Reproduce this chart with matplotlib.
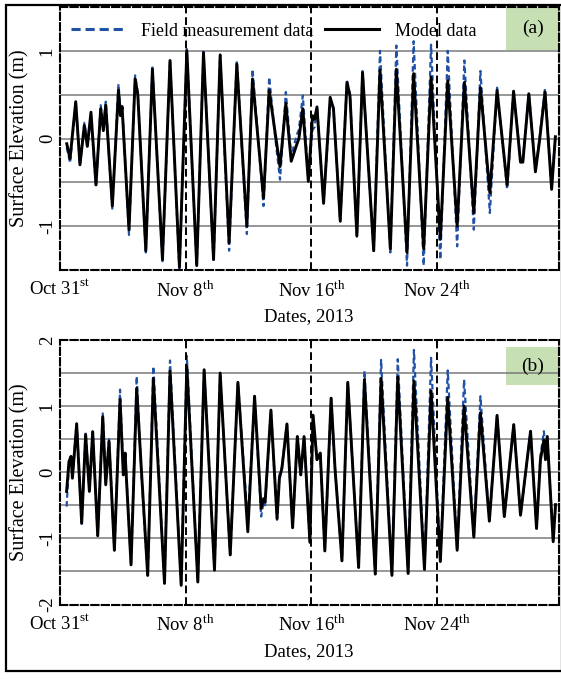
import matplotlib
matplotlib.use("Agg")
import matplotlib.pyplot as plt
from matplotlib.lines import Line2D
from matplotlib.patches import Rectangle

plt.rcParams['font.family'] = 'Liberation Serif'
plt.rcParams['mathtext.fontset'] = 'custom'
plt.rcParams['mathtext.rm'] = 'Liberation Serif'

# days since Oct 31st, 2013
a_days = [0.43, 0.64, 1.00, 1.27, 1.55, 1.74, 1.97, 2.29, 2.59, 2.76, 2.91, 3.33, 3.72, 3.85,
          3.95, 4.39, 4.78, 4.95, 5.46, 5.88, 6.52, 7.00, 7.60, 8.07, 8.70, 9.13, 9.77, 10.19,
          10.76, 11.25, 11.89, 12.25, 12.95, 13.31, 13.70, 14.00, 14.37, 14.71, 15.08, 15.20,
          15.45, 15.80, 16.07, 16.20, 16.35, 16.77, 17.19, 17.40, 17.83, 18.26, 18.45, 18.89,
          19.25, 19.96, 20.36, 21.02, 21.40, 22.08, 22.50, 23.14, 23.61, 24.20, 24.67, 25.27,
          25.73, 26.33, 26.75, 27.35, 27.81, 28.45, 28.86, 29.30, 29.45, 29.83, 30.25, 30.50,
          30.86, 31.28, 31.52]
a_model = [-0.06, -0.23, 0.42, -0.30, 0.15, -0.09, 0.30, -0.53, 0.34, 0.09, 0.38, -0.77, 0.55, 0.26,
           0.36, -1.04, 0.68, 0.50, -1.28, 0.79, -1.38, 0.89, -1.47, 1.00, -1.45, 0.98, -1.38, 0.95,
           -1.19, 0.85, -1.00, 0.68, -0.68, 0.55, 0.05, -0.32, 0.40, -0.26, -0.06, 0.00,
           0.34, -0.49, 0.26, 0.22, 0.36, -0.74, 0.47, 0.34, -0.94, 0.64, 0.49, -1.11,
           0.75, -1.28, 0.78, -1.26, 0.79, -1.30, 0.74, -1.26, 0.70, -1.15, 0.66, -1.00,
           0.64, -0.85, 0.58, -0.62, 0.55, -0.53, 0.54, -0.27, -0.27, 0.51, -0.38, -0.04,
           0.53, -0.58, 0.02]
a_field = [-0.10, -0.28, 0.42, -0.30, 0.18, -0.05, 0.25, -0.55, 0.38, 0.12, 0.42, -0.80, 0.62, 0.30,
           0.40, -1.10, 0.72, 0.52, -1.30, 0.81, -1.40, 0.90, -1.50, 1.02, -1.46, 0.99, -1.41, 0.96,
           -1.28, 0.89, -1.09, 0.79, -0.77, 0.70, 0.00, -0.47, 0.53, -0.20, 0.05, 0.10,
           0.49, -0.45, 0.10, 0.13, 0.36, -0.72, 0.40, 0.36, -0.95, 0.66, 0.50, -1.12,
           0.77, -1.30, 1.00, -1.30, 1.06, -1.45, 1.11, -1.45, 1.07, -1.38, 1.00, -1.23,
           0.89, -1.04, 0.77, -0.85, 0.58, -0.58, 0.55, -0.25, -0.25, 0.52, -0.36, -0.02,
           0.57, -0.56, 0.03]

b_days = [0.42, 0.57, 0.70, 0.79, 1.06, 1.38, 1.63, 1.87, 2.08, 2.40, 2.72, 2.91, 3.12, 3.46,
          3.82, 4.03, 4.14, 4.52, 4.88, 5.16, 5.58, 5.94, 6.65, 7.00, 7.71, 8.07, 8.77, 9.17,
          9.83, 10.19, 10.83, 11.32, 11.95, 12.38, 12.80, 12.95, 13.05, 13.42, 13.81, 13.96,
          14.12, 14.44, 14.80, 15.10, 15.32, 15.53, 15.90, 16.10, 16.35, 16.56, 16.85, 17.25,
          17.50, 17.94, 18.31, 19.00, 19.37, 20.06, 20.43, 21.12, 21.49, 22.15, 22.52, 23.19,
          23.61, 24.20, 24.67, 25.27, 25.71, 26.33, 26.75, 27.32, 27.81, 28.27, 28.87, 29.30,
          29.94, 30.32, 30.57, 30.79, 30.89, 31.00, 31.38, 31.53]
b_model = [-0.29, 0.16, 0.24, -0.09, 0.73, -0.77, 0.57, -0.29, 0.61, -0.96, 0.84, -0.19, 0.47, -1.18,
           1.10, -0.04, 0.29, -1.40, 1.27, 0.11, -1.56, 1.42, -1.68, 1.53, -1.71, 1.60, -1.66, 1.55,
           -1.48, 1.50, -1.25, 1.36, -0.90, 1.15, -0.55, -0.40, -0.45, 0.94, -0.70, -0.09,
           0.06, 0.73, -0.84, 0.54, -0.04, 0.54, -1.06, 0.86, 0.19, 0.29, -1.19, 1.12,
           0.05, -1.34, 1.36, -1.44, 1.40, -1.54, 1.42, -1.56, 1.44, -1.53, 1.38, -1.47,
           1.23, -1.35, 1.13, -1.18, 1.00, -0.98, 0.90, -0.74, 0.86, -0.67, 0.72, -0.65,
           0.62, -0.85, 0.19, 0.49, 0.19, 0.54, -1.05, -0.49]
b_field = [-0.52, 0.10, 0.22, -0.09, 0.74, -0.78, 0.60, -0.25, 0.62, -0.96, 0.89, -0.15, 0.50, -1.18,
           1.25, 0.00, 0.32, -1.40, 1.45, 0.05, -1.56, 1.60, -1.68, 1.69, -1.71, 1.76, -1.66, 1.56,
           -1.48, 1.50, -1.25, 1.36, -0.75, 1.15, -0.67, -0.45, -0.50, 0.94, -0.72, -0.05,
           0.08, 0.73, -0.84, 0.54, -0.04, 0.54, -1.06, 0.87, 0.19, 0.29, -1.19, 1.12,
           0.05, -1.34, 1.36, -1.44, 1.53, -1.54, 1.70, -1.56, 1.71, -1.53, 1.85, -1.47,
           1.73, -1.35, 1.54, -1.18, 1.40, -0.98, 1.15, -0.74, 0.86, -0.67, 0.72, -0.65,
           0.62, -0.85, 0.25, 0.62, 0.25, 0.54, -1.05, -0.49]

tick_days = [0, 8, 16, 24]
tick_labels = ['Oct 31$^{\\mathrm{st}}$', 'Nov 8$^{\\mathrm{th}}$',
               'Nov 16$^{\\mathrm{th}}$', 'Nov 24$^{\\mathrm{th}}$']

blue = '#2152a6'
green = '#c6e0b4'
W, H = 561, 679

fig = plt.figure(figsize=(W / 100, H / 100), dpi=100)
fig.patches.append(Rectangle((6 / W, 1 - 671 / H), 556 / W, 666 / H, transform=fig.transFigure,
                             fill=False, edgecolor='black', linewidth=1.6))


def make_panel(top, bottom, days, field, model, ylim, yticks, grid_y, tag):
    ax = fig.add_axes([60 / W, 1 - bottom / H, 499 / W, (bottom - top) / H])
    ax.set_xlim(0, 31.75)
    ax.set_ylim(*ylim)
    for y in grid_y:
        ax.axhline(y, color='#7a7a7a', lw=1.1, zorder=1)
    for d in tick_days[1:]:
        ax.axvline(d, color='black', lw=1.4, ls=(0, (4, 2)), zorder=4)
    ax.plot(days, field, color=blue, lw=1.6, ls=(0, (2.5, 1.5)), zorder=2)
    ax.plot(days, model, color='black', lw=2.1, zorder=3)
    for s in ax.spines.values():
        s.set_linestyle((0, (3.5, 1.5)))
        s.set_linewidth(1.5)
    ax.set_xticks(tick_days)
    ax.set_xticklabels(tick_labels, fontsize=13.5)
    ax.set_yticks(yticks)
    ax.set_yticklabels([str(v) for v in yticks], fontsize=13.5, rotation=90, va='center')
    ax.tick_params(length=0)
    ax.tick_params(axis='x', pad=7)
    ax.tick_params(axis='y', pad=3)
    # tag box in the upper right corner
    gy0 = (bottom - tag[1]) / (bottom - top)
    gy1 = (bottom - tag[0]) / (bottom - top)
    ax.add_patch(Rectangle((0.894, gy0), 0.106, gy1 - gy0, transform=ax.transAxes,
                           facecolor=green, edgecolor='none', zorder=0.5))
    ax.text(0.947, (gy0 + gy1) / 2, tag[2], transform=ax.transAxes, fontsize=14,
            ha='center', va='center', zorder=5)
    fig.text(20 / W, 1 - (top + bottom) / 2 / H, 'Surface Elevation (m)', rotation=90,
             fontsize=14.5, ha='center', va='center')
    fig.text(309 / W, 1 - (bottom + 47) / H, 'Dates, 2013', fontsize=13.5,
             ha='center', va='center')
    return ax


ax1 = make_panel(7, 270, a_days, a_field, a_model, (-1.5, 1.5), [-1, 0, 1],
                 [-1, -0.5, 0, 0.5, 1], (7, 50, '(a)'))
ax2 = make_panel(340, 604.5, b_days, b_field, b_model, (-2, 2), [-2, -1, 0, 1, 2],
                 [-1.5, -1, -0.5, 0, 0.5, 1, 1.5], (347, 385, '(b)'))

h_field = Line2D([], [], color=blue, lw=2.2, ls=(0, (3, 1.6)))
h_model = Line2D([], [], color='black', lw=2.2)
ax1.legend([h_field, h_model], ['Field measurement data', 'Model data'], ncol=2,
           loc='upper left', bbox_to_anchor=(0.022, 0.94), frameon=False, fontsize=13,
           handlelength=3.0, handletextpad=0.9, columnspacing=0.6, borderpad=0,
           borderaxespad=0)

fig.savefig('out.png', dpi=100)
